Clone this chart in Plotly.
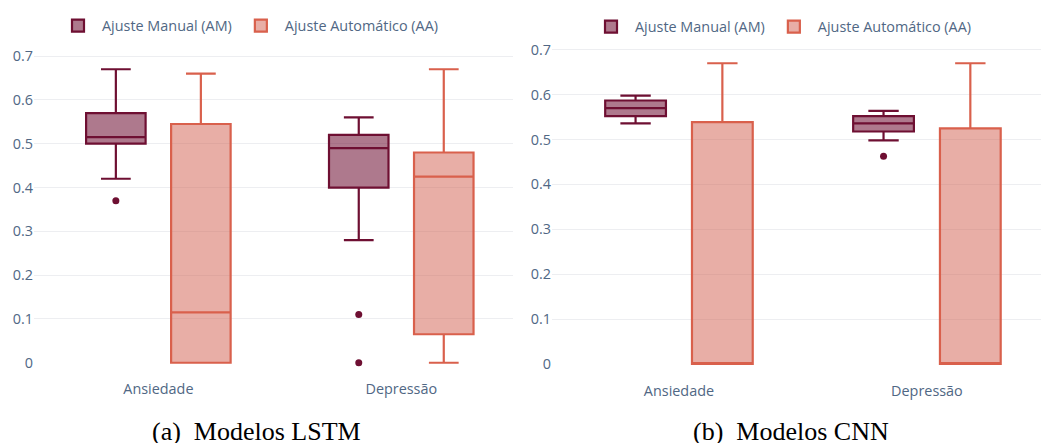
import plotly.graph_objects as go
from plotly.subplots import make_subplots

categories = ["Ansiedade", "Depressão"]
series_names = ["Ajuste Manual (AM)", "Ajuste Automático (AA)"]

# LSTM models - manual tuning
lstm_am_q1 = [0.50, 0.40]
lstm_am_median = [0.515, 0.49]
lstm_am_q3 = [0.57, 0.52]
lstm_am_lower = [0.42, 0.28]
lstm_am_upper = [0.67, 0.56]
lstm_am_samples = [[0.37], [0.11, 0.0]]

# LSTM models - automatic tuning
lstm_aa_q1 = [0.0, 0.065]
lstm_aa_median = [0.115, 0.425]
lstm_aa_q3 = [0.545, 0.48]
lstm_aa_lower = [0.0, 0.0]
lstm_aa_upper = [0.66, 0.67]
lstm_aa_samples = None

# CNN models - manual tuning
cnn_am_q1 = [0.552, 0.518]
cnn_am_median = [0.570, 0.536]
cnn_am_q3 = [0.587, 0.552]
cnn_am_lower = [0.536, 0.498]
cnn_am_upper = [0.598, 0.564]
# every box needs at least one sample; only values outside the fences get drawn
cnn_am_samples = [[0.570], [0.463]]

# CNN models - automatic tuning
cnn_aa_q1 = [0.0, 0.0]
cnn_aa_median = [0.002, 0.002]
cnn_aa_q3 = [0.539, 0.525]
cnn_aa_lower = [0.0, 0.0]
cnn_aa_upper = [0.67, 0.67]
cnn_aa_samples = None

captions = ["(a)\u00a0\u00a0Modelos LSTM", "(b)\u00a0\u00a0Modelos CNN"]

AM_LINE = "#6e0f32"
AM_FILL = "rgba(110,15,50,0.555)"
AA_LINE = "#d9604c"
AA_FILL = "rgba(209,93,77,0.5)"
GRID = "#EDEEF1"

W, H = 1041, 443
FONT = "Open Sans, verdana, arial, sans-serif"
FS = 14.4

fig = make_subplots(rows=1, cols=2)


def add_box(name, q1, med, q3, lo, hi, pts, line, fill, col, legend, group, offset):
    extra = {}
    if pts is not None:
        extra["y"] = pts
    fig.add_trace(
        go.Box(
            name=name,
            x=categories,
            q1=q1,
            median=med,
            q3=q3,
            lowerfence=lo,
            upperfence=hi,
            boxpoints="outliers",
            jitter=0,
            pointpos=0,
            line=dict(color=line, width=2.2),
            fillcolor=fill,
            marker=dict(color=line, size=7),
            legend=legend,
            showlegend=True,
            alignmentgroup=group,
            offsetgroup=offset,
            **extra,
        ),
        row=1,
        col=col,
    )


add_box(series_names[0], lstm_am_q1, lstm_am_median, lstm_am_q3, lstm_am_lower,
        lstm_am_upper, lstm_am_samples, AM_LINE, AM_FILL, 1, "legend", "lstm", "am")
add_box(series_names[1], lstm_aa_q1, lstm_aa_median, lstm_aa_q3, lstm_aa_lower,
        lstm_aa_upper, lstm_aa_samples, AA_LINE, AA_FILL, 1, "legend", "lstm", "aa")
add_box(series_names[0], cnn_am_q1, cnn_am_median, cnn_am_q3, cnn_am_lower,
        cnn_am_upper, cnn_am_samples, AM_LINE, AM_FILL, 2, "legend2", "cnn", "am")
add_box(series_names[1], cnn_aa_q1, cnn_aa_median, cnn_aa_q3, cnn_aa_lower,
        cnn_aa_upper, cnn_aa_samples, AA_LINE, AA_FILL, 2, "legend2", "cnn", "aa")


def ydom(top_px, bottom_px):
    return [1 - bottom_px / H, 1 - top_px / H]


axis_common = dict(
    showline=False,
    ticks="",
    tickfont=dict(size=FS, color="#506784", family=FONT),
)

legend_common = dict(
    orientation="h", xanchor="left", yanchor="middle", itemwidth=38,
    font=dict(size=FS, color="#506784", family=FONT),
)

fig.update_layout(
    template="plotly_white",
    width=W,
    height=H,
    autosize=False,
    showlegend=True,
    margin=dict(l=0, r=0, t=0, b=0),
    boxmode="group",
    font=dict(family=FONT, size=FS, color="#506784"),
    xaxis=dict(domain=[34 / W, 513 / W], range=[-0.512, 1.46], showgrid=False, **axis_common),
    xaxis2=dict(domain=[552 / W, 1.0], range=[-0.512, 1.46], showgrid=False, **axis_common),
    yaxis=dict(domain=ydom(45, 378), range=[-0.0362, 0.7172], dtick=0.1,
               gridcolor=GRID, zeroline=True, zerolinecolor="white", **axis_common),
    yaxis2=dict(domain=ydom(40, 380), range=[-0.0369, 0.7137], dtick=0.1,
                gridcolor=GRID, zeroline=True, zerolinecolor="white", **axis_common),
    legend=dict(x=54 / W, y=1 - 22 / H, **legend_common),
    legend2=dict(x=587 / W, y=1 - 23 / H, **legend_common),
)

for text, xc in zip(captions, [256, 791]):
    fig.add_annotation(
        text=text, x=xc / W, y=1 - 431 / H, xref="paper", yref="paper",
        xanchor="center", yanchor="middle", showarrow=False,
        font=dict(family="Liberation Serif, Times New Roman, serif", size=26, color="black"),
    )

fig.write_html("out.html")
